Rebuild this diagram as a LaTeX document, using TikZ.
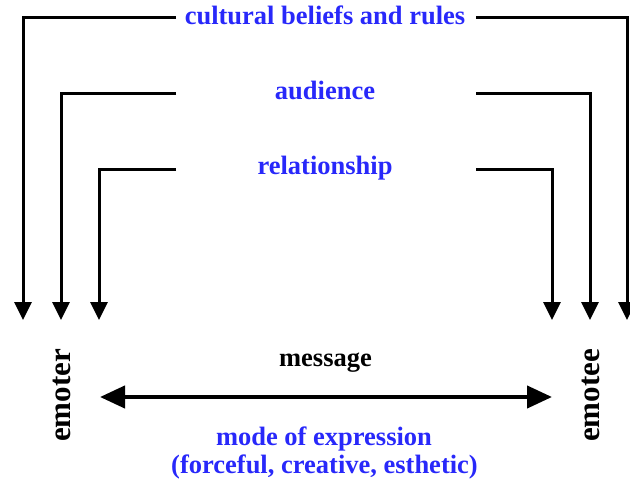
\documentclass[tikz,border=0pt]{standalone}
\usepackage{fontspec}
\setmainfont{Liberation Serif}
\usetikzlibrary{arrows.meta}
\definecolor{lblue}{RGB}{40,40,250}
\begin{document}
\begin{tikzpicture}[x=1pt,y=-1pt,
  lbl/.style={font=\fontsize{26.5}{30}\selectfont\bfseries, inner sep=0pt, anchor=base},
  bluelbl/.style={lbl, text=lblue},
  party/.style={font=\fontsize{31}{34}\selectfont\bfseries, inner sep=0pt, rotate=90, anchor=base},
  feed/.style={line width=3pt, -{Triangle[length=18pt,width=17pt]}},
  msg/.style={line width=4.2pt, {Triangle[length=25pt,width=22pt]}-{Triangle[length=25pt,width=22pt]}}]
\useasboundingbox (0,0) rectangle (630,484);
% labels
\node[bluelbl] (cult) at (325,25) {cultural beliefs and rules};
\node[bluelbl] (aud) at (325,100) {audience};
\node[bluelbl] (rel) at (325,175) {relationship};
\node[lbl] (mess) at (325.5,366) {message};
\node[bluelbl] (mode) at (324,445) {mode of expression};
\node[bluelbl] (forc) at (324.5,473) {(forceful, creative, esthetic)};
\node[party] (emoter) at (70,395.5) {emoter};
\node[party] (emotee) at (599,395.5) {emotee};
% line ends
\coordinate (cL) at (176,18);  \coordinate (cR) at (476,18);
\coordinate (aL) at (176,94);  \coordinate (aR) at (476,94);
\coordinate (rL) at (176,170); \coordinate (rR) at (476,170);
\coordinate (t1) at (23,320);  \coordinate (t2) at (61,320);  \coordinate (t3) at (99,320);
\coordinate (t4) at (552,320); \coordinate (t5) at (590,320); \coordinate (t6) at (627,320);
\coordinate (mL) at (100,397); \coordinate (mR) at (552,397);
% connectors
\draw[feed] (cL) -| (t1);
\draw[feed] (aL) -| (t2);
\draw[feed] (rL) -| (t3);
\draw[feed] (rR) -| (t4);
\draw[feed] (aR) -| (t5);
\draw[feed] (cR) -| (t6);
\draw[msg] (mL) -- (mR);
\end{tikzpicture}
\end{document}
